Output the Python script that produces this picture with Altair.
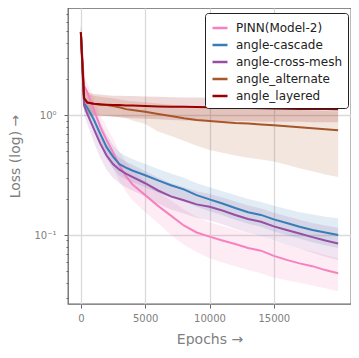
import altair as alt
import pandas as pd

epochs = [0, 250, 500, 1000, 1500, 2000, 2500, 3000, 3500, 4000, 5000, 6000, 7000,
          8000, 9000, 10000, 11000, 12000, 13000, 14000, 15000, 16000, 17000, 18000, 19000, 20000]

models = ["PINN(Model-2)", "angle-cascade", "angle-cross-mesh", "angle_alternate", "angle_layered"]
colors = ["#f781bf", "#377eb8", "#984ea3", "#a65628", "#990000"]

pinn_mean = [4.9, 1.75, 1.55, 1.12, 0.8, 0.62, 0.49, 0.38, 0.31, 0.265, 0.215, 0.175, 0.145,
             0.12, 0.105, 0.097, 0.09, 0.084, 0.078, 0.074, 0.067, 0.062, 0.058, 0.055, 0.051, 0.048]
pinn_lo = [4.2, 1.45, 1.25, 0.88, 0.6, 0.46, 0.36, 0.28, 0.23, 0.195, 0.155, 0.125, 0.1,
           0.083, 0.072, 0.064, 0.059, 0.055, 0.051, 0.048, 0.044, 0.042, 0.04, 0.038, 0.036, 0.034]
pinn_hi = [5.6, 2.1, 1.85, 1.4, 1.0, 0.8, 0.64, 0.5, 0.41, 0.35, 0.28, 0.23, 0.195,
           0.163, 0.142, 0.128, 0.119, 0.111, 0.103, 0.098, 0.089, 0.083, 0.077, 0.073, 0.068, 0.064]

cascade_mean = [4.9, 1.25, 1.15, 0.92, 0.7, 0.54, 0.45, 0.39, 0.365, 0.345, 0.315, 0.285, 0.26,
                0.24, 0.215, 0.198, 0.183, 0.168, 0.155, 0.147, 0.135, 0.126, 0.117, 0.11, 0.105, 0.1]
cascade_lo = [4.2, 1.08, 0.98, 0.78, 0.56, 0.43, 0.36, 0.31, 0.29, 0.275, 0.25, 0.225, 0.205,
              0.19, 0.172, 0.158, 0.146, 0.134, 0.124, 0.117, 0.107, 0.1, 0.093, 0.087, 0.082, 0.078]
cascade_hi = [5.6, 1.45, 1.35, 1.12, 0.88, 0.68, 0.56, 0.49, 0.455, 0.43, 0.39, 0.355, 0.325,
              0.3, 0.27, 0.25, 0.232, 0.215, 0.2, 0.188, 0.175, 0.165, 0.155, 0.148, 0.142, 0.138]

cross_mean = [4.9, 1.2, 1.02, 0.77, 0.58, 0.46, 0.39, 0.35, 0.325, 0.305, 0.27, 0.235, 0.21,
              0.195, 0.18, 0.172, 0.16, 0.147, 0.136, 0.129, 0.118, 0.11, 0.103, 0.096, 0.09, 0.085]
cross_lo = [4.2, 1.0, 0.84, 0.6, 0.44, 0.35, 0.3, 0.27, 0.25, 0.235, 0.21, 0.182, 0.163,
            0.151, 0.139, 0.132, 0.123, 0.113, 0.104, 0.098, 0.09, 0.083, 0.077, 0.071, 0.066, 0.062]
cross_hi = [5.6, 1.42, 1.22, 0.98, 0.74, 0.58, 0.49, 0.44, 0.41, 0.385, 0.34, 0.3, 0.27,
            0.25, 0.232, 0.22, 0.205, 0.19, 0.176, 0.166, 0.153, 0.143, 0.134, 0.126, 0.12, 0.115]

alternate_mean = [4.9, 1.38, 1.27, 1.24, 1.22, 1.21, 1.19, 1.16, 1.12, 1.1, 1.065, 1.02, 0.98,
                  0.94, 0.91, 0.89, 0.875, 0.86, 0.85, 0.835, 0.82, 0.805, 0.79, 0.775, 0.76, 0.745]
alternate_lo = [4.2, 1.15, 1.02, 1.0, 0.99, 0.98, 0.97, 0.96, 0.94, 0.9, 0.84, 0.73, 0.67,
                0.61, 0.555, 0.51, 0.485, 0.46, 0.44, 0.425, 0.41, 0.385, 0.36, 0.34, 0.32, 0.305]
alternate_hi = [5.6, 1.6, 1.5, 1.45, 1.42, 1.4, 1.38, 1.35, 1.32, 1.3, 1.28, 1.25, 1.22,
                1.2, 1.18, 1.17, 1.16, 1.15, 1.14, 1.13, 1.12, 1.11, 1.1, 1.09, 1.08, 1.07]

layered_mean = [4.9, 1.38, 1.27, 1.24, 1.23, 1.22, 1.21, 1.21, 1.2, 1.2, 1.19, 1.18, 1.17,
                1.17, 1.165, 1.16, 1.155, 1.15, 1.145, 1.14, 1.135, 1.13, 1.125, 1.12, 1.12, 1.115]
layered_lo = [4.2, 1.15, 1.02, 1.0, 0.99, 0.98, 0.97, 0.96, 0.95, 0.94, 0.93, 0.92, 0.91,
              0.9, 0.9, 0.9, 0.89, 0.89, 0.89, 0.88, 0.88, 0.88, 0.88, 0.87, 0.87, 0.87]
layered_hi = [5.6, 1.6, 1.55, 1.5, 1.48, 1.46, 1.45, 1.45, 1.44, 1.44, 1.43, 1.42, 1.41,
              1.4, 1.4, 1.39, 1.39, 1.38, 1.38, 1.37, 1.37, 1.36, 1.36, 1.35, 1.35, 1.35]

means = [pinn_mean, cascade_mean, cross_mean, alternate_mean, layered_mean]
los = [pinn_lo, cascade_lo, cross_lo, alternate_lo, layered_lo]
his = [pinn_hi, cascade_hi, cross_hi, alternate_hi, layered_hi]

x_ticks = [0, 5000, 10000, 15000]
y_ticks = [0.03, 0.04, 0.05, 0.06, 0.07, 0.08, 0.09,
           0.1, 0.2, 0.3, 0.4, 0.5, 0.6, 0.7, 0.8, 0.9,
           1, 2, 3, 4, 5, 6, 7]

rows = []
for m, mean, lo, hi in zip(models, means, los, his):
    for e, v, l, h in zip(epochs, mean, lo, hi):
        rows.append({"epoch": e, "model": m, "band_model": m, "loss": v, "lo": l, "hi": h})
df = pd.DataFrame(rows)

FONT = "DejaVu Sans"
GRAY = "#808080"
major = "datum.value == 1 || datum.value == 0.1"

xscale = alt.Scale(domain=[-1000, 21000], nice=False, zero=False)
yscale = alt.Scale(type="log", domain=[0.0266, 7.8], nice=False)

xaxis = alt.Axis(values=x_ticks, format="d", title="Epochs →", grid=True,
                 gridColor="#dadada", gridWidth=1.3, domain=False,
                 tickColor="#666666", tickSize=4, labelColor=GRAY, labelFontSize=10,
                 labelFont=FONT, labelPadding=5, titleColor=GRAY, titleFontSize=14,
                 titleFont=FONT, titleFontWeight="normal", titlePadding=9)
yaxis = alt.Axis(values=y_ticks, title="Loss (log) →", grid=True,
                 gridColor="#dadada", gridWidth=1.3,
                 gridOpacity={"condition": {"test": major, "value": 1}, "value": 0},
                 tickSize={"condition": {"test": major, "value": 4}, "value": 2},
                 labelExpr="datum.value == 1 ? '10⁰' : (datum.value == 0.1 ? '10⁻¹' : '')",
                 domain=False, tickColor="#666666", labelColor=GRAY, labelFontSize=10,
                 labelFont=FONT, labelPadding=8, titleColor=GRAY, titleFontSize=14,
                 titleFont=FONT, titleFontWeight="normal", titlePadding=11)

# band fill scale gets its domain from the data (sorted), so it is not merged with the line legend
band = alt.Chart(df).mark_area(opacity=0.15).encode(
    x=alt.X("epoch:Q", scale=xscale, axis=xaxis),
    y=alt.Y("lo:Q", scale=yscale, axis=yaxis, stack=None),
    y2="hi:Q",
    fill=alt.Fill("band_model:N", sort=models, scale=alt.Scale(range=colors), legend=None),
)

line = alt.Chart(df).mark_line(strokeWidth=2).encode(
    x=alt.X("epoch:Q", scale=xscale),
    y=alt.Y("loss:Q", scale=yscale),
    stroke=alt.Stroke("model:N", scale=alt.Scale(domain=models, range=colors),
                      legend=alt.Legend(title=None, orient="none", legendX=137, legendY=5,
                                        fillColor="white", strokeColor="#222222",
                                        cornerRadius=3, padding=6, rowPadding=2,
                                        symbolType="stroke", symbolSize=225,
                                        symbolStrokeWidth=2.5, labelFontSize=12,
                                        labelFont=FONT, labelColor="#222222",
                                        labelOffset=7)),
)

chart = (band + line).properties(width=283, height=296, padding=0).configure_view(
    stroke="#666666", strokeWidth=1.3
)

chart.save("out.html", embed_options={"renderer": "svg", "actions": False})
